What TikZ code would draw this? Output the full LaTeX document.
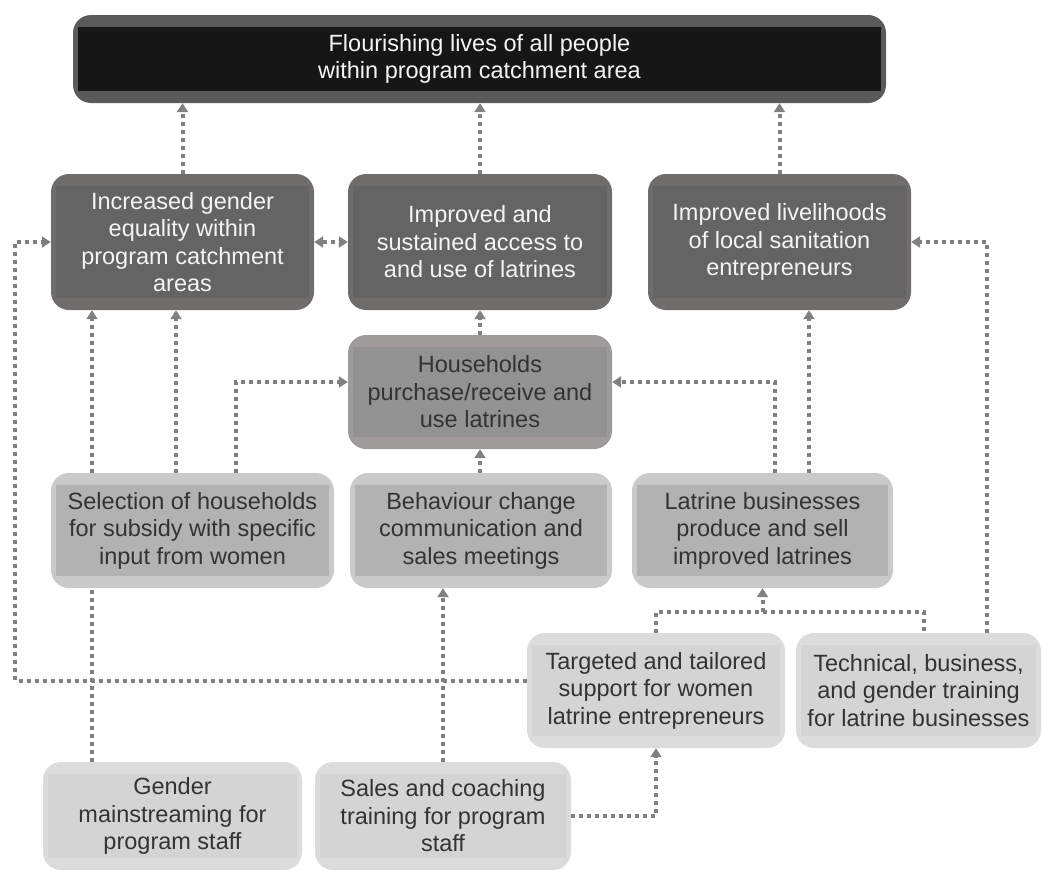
\documentclass[tikz,border=0pt]{standalone}
\usepackage{fontspec}
\setmainfont{Liberation Sans}
\usetikzlibrary{arrows.meta}

\definecolor{topouter}{HTML}{5A5A5A}
\definecolor{topinner}{HTML}{161616}
\definecolor{darkouter}{HTML}{706C6C}
\definecolor{darkinner}{HTML}{646464}
\definecolor{midouter}{HTML}{9F9B9B}
\definecolor{midinner}{HTML}{929292}
\definecolor{lightouter}{HTML}{C9CAC9}
\definecolor{lightinner}{HTML}{B2B2B2}
\definecolor{paleouter}{HTML}{DCDCDC}
\definecolor{paleinner}{HTML}{D4D4D4}
\definecolor{conncol}{HTML}{808080}
\definecolor{textdark}{HTML}{333333}
\definecolor{textlight}{HTML}{F4F4F4}

\tikzset{
  box/.style={rounded corners=18pt, inner sep=0pt, align=center,
    font=\fontsize{23.5}{27.5}\selectfont,
    path picture={\fill[#1, sharp corners]
      ([shift={(5pt,-12pt)}]path picture bounding box.north west) rectangle
      ([shift={(-5pt,12pt)}]path picture bounding box.south east);}},
  goalbox/.style={box=topinner, fill=topouter, text=textlight},
  outcomebox/.style={box=darkinner, fill=darkouter, text=textlight},
  midbox/.style={box=midinner, fill=midouter, text=textdark},
  outputbox/.style={box=lightinner, fill=lightouter, text=textdark},
  inputbox/.style={box=paleinner, fill=paleouter, text=textdark},
  link/.style={draw=conncol, line width=4pt, dash pattern=on 4pt off 4pt},
  conn/.style={link, -{Triangle[width=11pt,length=9pt]}},
  biconn/.style={link, {Triangle[width=11pt,length=9pt]}-{Triangle[width=11pt,length=9pt]}}
}

\begin{document}
\begin{tikzpicture}[x=1pt,y=-1pt]
\useasboundingbox (0,0) rectangle (1043,870);

% goal
\node[goalbox, minimum width=813pt, minimum height=88pt] (goal) at (479.5,59)
  {Flourishing lives of all people\\within program catchment area};

% outcomes
\node[outcomebox, minimum width=263pt, minimum height=136pt] (gender) at (182.5,242)
  {Increased gender\\equality within\\program catchment\\areas};
\node[outcomebox, minimum width=264pt, minimum height=136pt] (access) at (480,242)
  {Improved and\\sustained access to\\and use of latrines};
\node[outcomebox, minimum width=263pt, minimum height=136pt] (liveli) at (779.5,242)
  {Improved livelihoods\\of local sanitation\\entrepreneurs};

% intermediate
\node[midbox, minimum width=264pt, minimum height=114pt] (house) at (480,392)
  {Households\\purchase/receive and\\use latrines};

% outputs
\node[outputbox, minimum width=283pt, minimum height=115pt] (select) at (192.5,530.5)
  {Selection of households\\for subsidy with specific\\input from women};
\node[outputbox, minimum width=262pt, minimum height=115pt] (behav) at (481,530.5)
  {Behaviour change\\communication and\\sales meetings};
\node[outputbox, minimum width=261pt, minimum height=115pt] (latbiz) at (762.5,530.5)
  {Latrine businesses\\produce and sell\\improved latrines};

% activities
\node[inputbox, minimum width=258pt, minimum height=115pt] (target) at (656,690.5)
  {Targeted and tailored\\support for women\\latrine entrepreneurs};
\node[inputbox, minimum width=245pt, minimum height=115pt] (techtr) at (918.5,690.5)
  {Technical, business,\\and gender training\\for latrine businesses};
\node[inputbox, minimum width=259pt, minimum height=108pt] (gmain) at (172.5,816)
  {Gender\\mainstreaming for\\program staff};
\node[inputbox, minimum width=256pt, minimum height=108pt] (sales) at (443,816)
  {Sales and coaching\\training for program\\staff};

% helper columns and rows for the routed connectors
\coordinate (lx) at (15,0);
\coordinate (merge) at (0,612);

% links to the goal
\draw[conn] (gender.north) -- (gender.north |- goal.south);
\draw[conn] (access.north) -- (access.north |- goal.south);
\draw[conn] (liveli.north) -- (liveli.north |- goal.south);

% between outcomes
\draw[biconn] (gender.east) -- (access.west);

% women entrepreneurs support feeds gender equality
\draw[conn] ([yshift=10pt]target.west) -| (lx |- gender.west) -- (gender.west);

% selection of households
\draw[conn] (select.north -| 92,0) -- (gender.south -| 92,0);
\draw[conn] (select.north -| 176,0) -- (gender.south -| 176,0);
\draw[conn] (select.north -| 236,0) |- ([yshift=10pt]house.west);

% households to access
\draw[conn] (house.north) -- (access.south);
\draw[conn] (behav.north -| house.south) -- (house.south);

% latrine businesses
\draw[conn] (latbiz.north -| 775,0) |- ([yshift=10pt]house.east);
\draw[conn] (latbiz.north -| 809,0) -- (liveli.south -| 809,0);

% technical training to livelihoods
\draw[conn] (techtr.north -| 987,0) |- (liveli.east);

% trainings feeding the latrine businesses
\draw[link] (target.north) |- (merge -| 924,0) -- (techtr.north -| 924,0);
\draw[conn] (merge -| latbiz.south) -- (latbiz.south);

% staff trainings
\draw[link] (gmain.north -| 92,0) -- (select.south -| 92,0);
\draw[conn] (sales.north) -- (behav.south -| sales.north);
\draw[conn] (sales.east) -| (target.south);

\end{tikzpicture}
\end{document}
